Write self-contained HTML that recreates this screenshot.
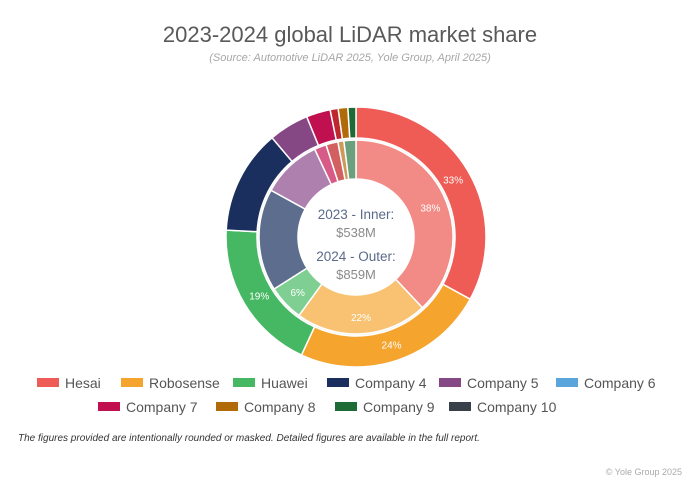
<!DOCTYPE html>
<html><head><meta charset="utf-8"><style>
body{margin:0;background:#fff;}
#wrap{position:relative;width:700px;height:490px;font-family:"Liberation Sans",sans-serif;overflow:hidden;}
svg{position:absolute;left:0;top:0;}
</style></head><body>
<div id="wrap">
<svg id="chart" width="700" height="490">
<text x="350" y="42" text-anchor="middle" font-size="22" fill="#595959">2023-2024 global LiDAR market share</text>
<text x="350" y="61" text-anchor="middle" font-size="11" font-style="italic" fill="#a6a6a6">(Source: Automotive LiDAR 2025, Yole Group, April 2025)</text>
<text x="356" y="219" text-anchor="middle" font-size="13.5" fill="#5a6a8a">2023 - Inner:</text>
<text x="356" y="237" text-anchor="middle" font-size="13" fill="#8a8a8a">$538M</text>
<text x="356" y="261" text-anchor="middle" font-size="13.5" fill="#5a6a8a">2024 - Outer:</text>
<text x="356" y="279" text-anchor="middle" font-size="13" fill="#8a8a8a">$859M</text>
<text x="18" y="441" font-size="10" font-style="italic" fill="#333">The figures provided are intentionally rounded or masked. Detailed figures are available in the full report.</text>
<text x="682" y="475" text-anchor="end" font-size="9" fill="#aaa">© Yole Group 2025</text>
</svg>
</div>
<script>
const categories=["Hesai","Robosense","Huawei","Company 4","Company 5","Company 6","Company 7","Other","Company 8","Company 9"];
const values2024=[33,24,19,13,5,0,3,1,1.2,1];
const values2023=[38,22,6,17,10,0,2,2,1,2];
const labels2024=["33%","24%","19%","","","","","","",""];
const labels2023=["38%","22%","6%","","","","","","",""];
const legendNames=["Hesai","Robosense","Huawei","Company 4","Company 5","Company 6","Company 7","Company 8","Company 9","Company 10"];
const colors=["#ef5b55","#f5a42e","#46b863","#1b2f5e","#864785","#5aa5dc","#c0104f","#c0262d","#b06a08","#1e6b36"];
const legendColors=["#ef5b55","#f5a42e","#46b863","#1b2f5e","#864785","#5aa5dc","#c0104f","#b06a08","#1e6b36","#3a4049"];
const innerColors=["#f28b86","#f8c272","#7fcf93","#5d6d8e","#ad80ae","#8cc3ea","#d85a87","#d26060","#cc9b5a","#6aa07c"];
const NS="http://www.w3.org/2000/svg";
const svg=document.getElementById('chart');
const cx=356,cy=237;
function pt(r,a){return [cx+r*Math.sin(a),cy-r*Math.cos(a)];}
function arc(r0,r1,a0,a1){
 const [x0,y0]=pt(r1,a0),[x1,y1]=pt(r1,a1),[x2,y2]=pt(r0,a1),[x3,y3]=pt(r0,a0);
 const l=(a1-a0)>Math.PI?1:0;
 return `M${x0},${y0}A${r1},${r1} 0 ${l} 1 ${x1},${y1}L${x2},${y2}A${r0},${r0} 0 ${l} 0 ${x3},${y3}Z`;
}
function ring(vals,labs,cols,r0,r1,name,lr){
 const tot=vals.reduce((a,b)=>a+b,0);let a=0;
 vals.forEach((v,i)=>{
  if(v<=0)return;
  const a1=a+v/tot*2*Math.PI;
  const p=document.createElementNS(NS,'path');
  p.setAttribute('d',arc(r0,r1,a,a1));p.setAttribute('fill',cols[i]);
  p.setAttribute('stroke','#fff');p.setAttribute('stroke-width','1.5');
  
  
  svg.appendChild(p);
  if(labs[i]){
   const [tx,ty]=pt(lr,(a+a1)/2);
   const t=document.createElementNS(NS,'text');
   t.setAttribute('x',tx);t.setAttribute('y',ty+4);t.setAttribute('text-anchor','middle');
   t.setAttribute('font-size','10');t.setAttribute('fill','#fff');t.textContent=labs[i];
   
   
   svg.appendChild(t);
  }
  a=a1;
 });
}
const bg=document.createElementNS(NS,'circle');
bg.setAttribute('cx',cx);bg.setAttribute('cy',cy);bg.setAttribute('r',98);bg.setAttribute('fill','none');
bg.setAttribute('stroke','#eeeeee');bg.setAttribute('stroke-width','3');


svg.insertBefore(bg,svg.firstChild);
ring(values2024,labels2024,colors,99,130,'outer',113);
ring(values2023,labels2023,innerColors,58,97,'inner',80);
const legendPos=[[37,383],[121,383],[233,383],[327,383],[439,383],[556,383],[98,407],[216,407],[335,407],[449,407]];
legendNames.forEach((n,i)=>{
 const [x,y]=legendPos[i];
 const r=document.createElementNS(NS,'rect');
 r.setAttribute('x',x);r.setAttribute('y',y-5);r.setAttribute('width',22);r.setAttribute('height',9);r.setAttribute('fill',legendColors[i]);
 
 
 svg.appendChild(r);
 const t=document.createElementNS(NS,'text');
 t.setAttribute('x',x+28);t.setAttribute('y',y+5);t.setAttribute('font-size','14');t.setAttribute('fill','#555');t.textContent=n;
 
 
 svg.appendChild(t);
});
</script>
</body></html>
